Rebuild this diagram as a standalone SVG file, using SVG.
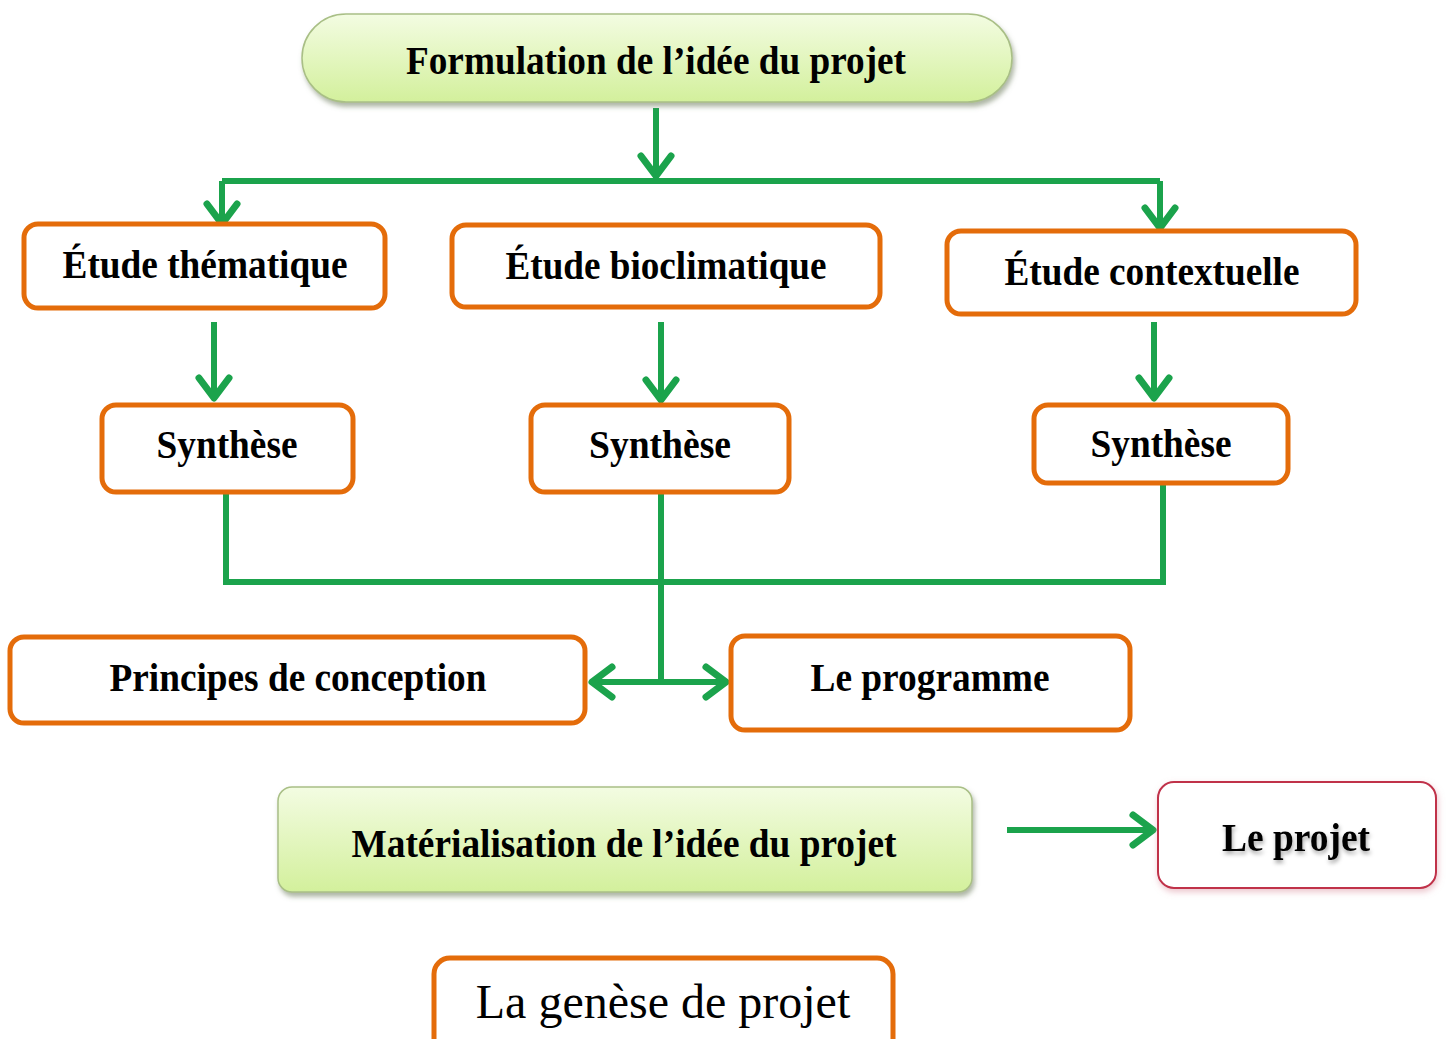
<svg xmlns="http://www.w3.org/2000/svg" width="1447" height="1039" viewBox="0 0 1447 1039">
<defs>
<linearGradient id="gGreen" x1="0" y1="0" x2="0" y2="1">
<stop offset="0" stop-color="#f3fce2"/>
<stop offset="1" stop-color="#d3f09c"/>
</linearGradient>
<filter id="shadow" x="-5%" y="-20%" width="110%" height="150%">
<feDropShadow dx="2" dy="4" stdDeviation="2.5" flood-color="#6b7a5a" flood-opacity="0.55"/>
</filter>
<filter id="pinkShadow" x="-10%" y="-20%" width="120%" height="150%">
<feDropShadow dx="1" dy="3" stdDeviation="3" flood-color="#d88a9a" flood-opacity="0.5"/>
</filter>
<filter id="txtShadow" x="-5%" y="-20%" width="110%" height="160%">
<feDropShadow dx="1" dy="3" stdDeviation="2" flood-color="#000" flood-opacity="0.35"/>
</filter>
<marker id="chev" viewBox="-28 -22 34 44" refX="0" refY="0" markerWidth="34" markerHeight="44" markerUnits="userSpaceOnUse" orient="auto-start-reverse">
<path d="M-20,-15 L0,0 L-20,15" fill="none" stroke="#1ba34c" stroke-width="7" stroke-linecap="round" stroke-linejoin="round"/>
</marker>
</defs>
<style>
.box{fill:#fff;stroke:#e46c0a;stroke-width:5}
.green{fill:url(#gGreen);stroke:#a9bf86;stroke-width:1.5}
.t{font-family:"Liberation Serif","Times New Roman",serif;font-weight:bold;font-size:41px;fill:#000;text-anchor:middle}
.r{font-family:"Liberation Serif","Times New Roman",serif;font-size:48px;fill:#000;text-anchor:middle}
.c{fill:none;stroke:#1ba34c;stroke-width:6}
.ca{fill:none;stroke:#1ba34c;stroke-width:6;marker-end:url(#chev)}
</style>
<rect width="1447" height="1039" fill="#fff"/>

<g id="connectors">
<path class="ca" d="M656,108 V176"/>
<path class="c" d="M222,181 H1160"/>
<path class="ca" d="M222,181 V224"/>
<path class="ca" d="M1160,181 V228"/>
<path class="ca" d="M214,322 V398"/>
<path class="ca" d="M661,322 V400"/>
<path class="ca" d="M1154,322 V398"/>
<path class="c" d="M226,492 V582 H1163 V482"/>
<path class="c" d="M661,492 V682"/>
<path class="c" d="M592,682 H726" marker-start="url(#chev)" marker-end="url(#chev)"/>
<path class="ca" d="M1007,830 H1153" stroke-width="8"/>
</g>

<g id="formulation">
<rect class="green" x="302" y="14" width="710" height="88" rx="44" filter="url(#shadow)"/>
<text class="t" x="656" y="74" textLength="500" lengthAdjust="spacingAndGlyphs">Formulation de l’idée du projet</text>
</g>

<g id="etude-thematique">
<rect class="box" x="24" y="224" width="361" height="84" rx="14"/>
<text class="t" x="205" y="278" textLength="285" lengthAdjust="spacingAndGlyphs">Étude thématique</text>
</g>

<g id="etude-bioclimatique">
<rect class="box" x="452" y="225" width="428" height="82" rx="14"/>
<text class="t" x="666" y="279" textLength="321" lengthAdjust="spacingAndGlyphs">Étude bioclimatique</text>
</g>

<g id="etude-contextuelle">
<rect class="box" x="947" y="231" width="409" height="83" rx="14"/>
<text class="t" x="1152" y="285" textLength="295" lengthAdjust="spacingAndGlyphs">Étude contextuelle</text>
</g>

<g id="synthese-1">
<rect class="box" x="102" y="405" width="251" height="87" rx="14"/>
<text class="t" x="227" y="458" textLength="141" lengthAdjust="spacingAndGlyphs">Synthèse</text>
</g>

<g id="synthese-2">
<rect class="box" x="531" y="405" width="258" height="87" rx="14"/>
<text class="t" x="660" y="458" textLength="142" lengthAdjust="spacingAndGlyphs">Synthèse</text>
</g>

<g id="synthese-3">
<rect class="box" x="1034" y="405" width="254" height="78" rx="14"/>
<text class="t" x="1161" y="457" textLength="141" lengthAdjust="spacingAndGlyphs">Synthèse</text>
</g>

<g id="principes">
<rect class="box" x="10" y="637" width="575" height="86" rx="14"/>
<text class="t" x="298" y="691" textLength="377" lengthAdjust="spacingAndGlyphs">Principes de conception</text>
</g>

<g id="programme">
<rect class="box" x="731" y="636" width="399" height="94" rx="14"/>
<text class="t" x="930" y="691" textLength="239" lengthAdjust="spacingAndGlyphs">Le programme</text>
</g>

<g id="materialisation">
<rect class="green" x="278" y="787" width="694" height="105" rx="14" filter="url(#shadow)"/>
<text class="t" x="624" y="857" textLength="545" lengthAdjust="spacingAndGlyphs">Matérialisation de l’idée du projet</text>
</g>

<g id="le-projet">
<rect x="1158" y="782" width="278" height="106" rx="16" fill="#fff" stroke="#c0304a" stroke-width="2" filter="url(#pinkShadow)"/>
<text class="t" x="1296" y="851" textLength="148" lengthAdjust="spacingAndGlyphs" filter="url(#txtShadow)">Le projet</text>
</g>

<g id="genese">
<rect class="box" x="434" y="958" width="459" height="100" rx="16"/>
<text class="r" x="663" y="1018">La genèse de projet</text>
</g>
</svg>
